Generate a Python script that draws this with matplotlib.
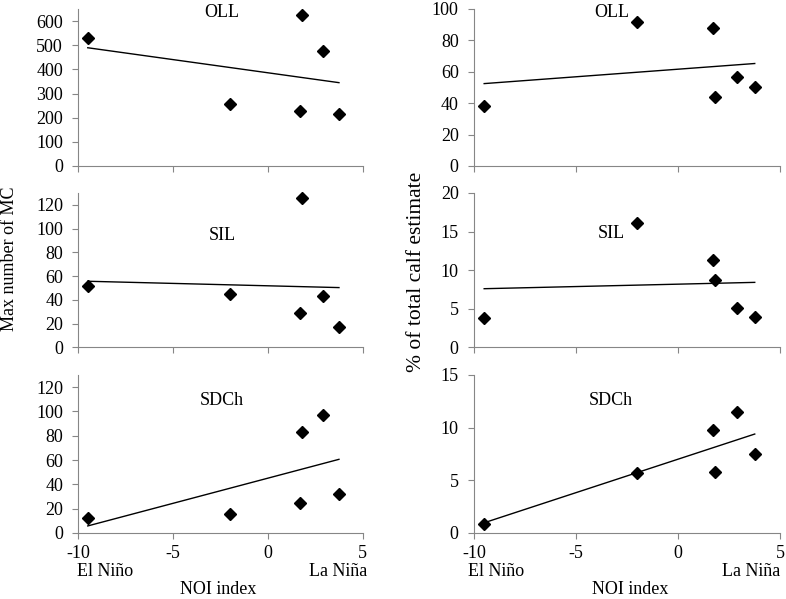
import numpy as np
import matplotlib.pyplot as plt

plt.rcParams['font.family'] = ['Liberation Serif', 'DejaVu Serif']
plt.rcParams['axes.unicode_minus'] = False

# NOI index per year (same for all panels)
noi = [-9.5, -2.0, 1.7, 1.8, 2.9, 3.75]

# max number of MC
oll_mc = [531, 256, 227, 626, 476, 214]
sil_mc = [52, 45, 29, 126, 43, 17]
sdch_mc = [12, 16, 25, 83, 97, 32]

# % of total calf estimate
oll_pct = [38, 92, 88, 44, 56.6, 50]
sil_pct = [3.8, 16.1, 11.3, 8.8, 5.1, 4.0]
sdch_pct = [0.9, 5.7, 9.8, 5.8, 11.5, 7.5]

fig = plt.figure(figsize=(7.86, 5.99), dpi=100)

# left, width per column ; bottom, height per row (figure fractions)
cols = [(0.0996, 0.3618), (0.603, 0.3897)]
rows = [(0.7229, 0.2621), (0.4199, 0.2579), (0.1102, 0.2638)]

panels = [
    # (row, col, y, ylim, ystep, name, label_xy)
    (0, 0, oll_mc, 650, 100, 'OLL', (0.504, 0.979)),
    (1, 0, sil_mc, 130, 20, 'SIL', (0.505, 0.727)),
    (2, 0, sdch_mc, 130, 20, 'SDCh', (0.504, 0.837)),
    (0, 1, oll_pct, 100, 20, 'OLL', (0.45, 0.979)),
    (1, 1, sil_pct, 20, 5, 'SIL', (0.448, 0.739)),
    (2, 1, sdch_pct, 15, 5, 'SDCh', (0.448, 0.836)),
]

grey = '#868686'
fs = 13
for r, c, y, ymax, ystep, name, pos in panels:
    ax = fig.add_axes([cols[c][0], rows[r][0], cols[c][1], rows[r][1]])
    ax.plot(noi, y, 'D', color='black', markersize=6.3, clip_on=False)
    # linear trend line
    k, b = np.polyfit(noi, y, 1)
    xs = np.array([min(noi), max(noi)])
    ax.plot(xs, k * xs + b, color='black', linewidth=1)
    ax.set_xlim(-10, 5)
    ax.set_ylim(0, ymax)
    ax.set_xticks([-10, -5, 0, 5])
    ax.set_yticks(np.arange(0, ymax + 0.01, ystep))
    for s in ['top', 'right']:
        ax.spines[s].set_visible(False)
    for s in ['left', 'bottom']:
        ax.spines[s].set_color(grey)
    ax.tick_params(colors=grey, labelcolor='black', labelsize=fs, length=4, direction='out')
    ax.tick_params(axis='y', pad=7)
    ax.tick_params(axis='x', pad=5)
    if r < 2:
        ax.tick_params(axis='x', labelbottom=False)
    ax.text(pos[0], pos[1], name, transform=ax.transAxes, ha='center', va='center', fontsize=fs)

# axis labels
fig.text(0.0127, 0.5676, 'Max number of MC', rotation=90, ha='center', va='center', fontsize=13)
fig.text(0.5305, 0.546, '% of total calf estimate', rotation=90, ha='center', va='center', fontsize=15.5)

for xl, xr, xc in [(105, 338, 218), (496, 751, 630)]:
    fig.text(xl / 786, 1 - 571 / 599, 'El Niño', ha='center', va='center', fontsize=fs)
    fig.text(xr / 786, 1 - 571 / 599, 'La Niña', ha='center', va='center', fontsize=fs)
    fig.text(xc / 786, 1 - 590 / 599, 'NOI index', ha='center', va='center', fontsize=fs)

fig.savefig('out.png', dpi=100)
